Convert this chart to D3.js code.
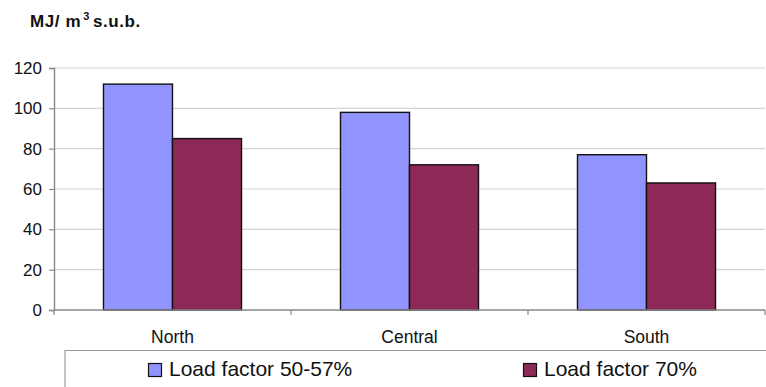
<!DOCTYPE html>
<html>
<head>
<meta charset="utf-8">
<script src="https://cdn.jsdelivr.net/npm/d3@7"></script>
<style>
  html, body { margin: 0; padding: 0; background: #fff; }
  svg { display: block; font-family: "Liberation Sans", Arial, sans-serif; }
</style>
</head>
<body>
<svg id="chart" width="766" height="387"></svg>
<script>
// Energy use per solid cubic metre, by region and load factor
const regions = ["North", "Central", "South"];
const seriesNames = ["Load factor 50-57%", "Load factor 70%"];
const loadLow = [112, 98, 77];
const loadHigh = [85, 72, 63];
const yTicks = [0, 20, 40, 60, 80, 100, 120];
const colors = ["#9194FF", "#8E2857"];

const svg = d3.select("#chart");
const margin = { left: 54, right: 1, top: 68, bottom: 77 };
const W = 766, H = 387;
const x0 = margin.left, x1 = W - margin.right;
const yTop = margin.top, yBot = H - margin.bottom;

const x = d3.scaleBand().domain(regions).range([x0, x1]).paddingInner(0).paddingOuter(0);
const xs = d3.scaleBand().domain([0, 1]).range([0, x.bandwidth()]).paddingOuter(0.717).paddingInner(0);
const y = d3.scaleLinear().domain([0, 120]).range([yBot, yTop]);

// gridlines
svg.append("g")
  .selectAll("line")
  .data(yTicks.filter(t => t > 0))
  .join("line")
  .attr("x1", x0).attr("x2", x1)
  .attr("y1", d => y(d)).attr("y2", d => y(d))
  .attr("stroke", "#d4d4d4").attr("stroke-width", 1.2);

// bars
const table = regions.map((r, i) => ({ region: r, values: [loadLow[i], loadHigh[i]] }));
svg.append("g")
  .selectAll("g")
  .data(table)
  .join("g")
  .attr("transform", d => `translate(${x(d.region)},0)`)
  .selectAll("rect")
  .data(d => d.values.map((v, k) => ({ v, k })))
  .join("rect")
  .attr("x", d => xs(d.k))
  .attr("width", xs.bandwidth())
  .attr("y", d => y(d.v))
  .attr("height", d => y(0) - y(d.v))
  .attr("fill", d => colors[d.k])
  .attr("stroke", "#111")
  .attr("stroke-width", 1.4);

// y axis
const yAxis = d3.axisLeft(y).tickValues(yTicks).tickSize(5).tickPadding(7);
const gy = svg.append("g").attr("transform", `translate(${x0},0)`).call(yAxis);
gy.select(".domain").attr("stroke", "#888").attr("stroke-width", 1.4);
gy.selectAll(".tick line").attr("stroke", "#888").attr("stroke-width", 1.2);
gy.selectAll(".tick text").attr("font-size", 17).attr("fill", "#111")
  .attr("font-family", "Liberation Sans, Arial, sans-serif");

// x axis: ticks at category boundaries
const gx = svg.append("g").attr("transform", `translate(0,${yBot})`);
gx.append("line").attr("x1", x0).attr("x2", x1).attr("y1", 0).attr("y2", 0)
  .attr("stroke", "#888").attr("stroke-width", 1.4);
const bounds = regions.map(r => x(r)).concat([x1]);
gx.selectAll("line.tk").data(bounds).join("line").attr("class", "tk")
  .attr("x1", d => d).attr("x2", d => d).attr("y1", 0).attr("y2", 5)
  .attr("stroke", "#888").attr("stroke-width", 1.2);
gx.selectAll("text").data(regions).join("text")
  .attr("x", d => x(d) + x.bandwidth() / 2)
  .attr("y", 32.5)
  .attr("text-anchor", "middle")
  .attr("font-size", 17.5)
  .attr("fill", "#111")
  .text(d => d);

// unit title
const title = svg.append("text").attr("x", 30).attr("y", 27)
  .attr("font-size", 17).attr("font-weight", "bold").attr("fill", "#111")
  .attr("letter-spacing", 0.6);
title.append("tspan").text("MJ/ m");
title.append("tspan").attr("font-size", 11).attr("dy", -7).attr("dx", 2).text("3");
title.append("tspan").attr("dy", 7).attr("dx", 3).text("s.u.b.");

// legend frame (open at right and bottom)
const lg = svg.append("g");
lg.append("path").attr("d", `M65,${H} V350.5 H${W}`)
  .attr("fill", "none").attr("stroke", "#999").attr("stroke-width", 1.2);
const legendX = [148, 523];
const items = lg.selectAll("g").data(seriesNames).join("g")
  .attr("transform", (d, i) => `translate(${legendX[i]},376)`);
items.append("rect").attr("x", 0.5).attr("y", -12.5).attr("width", 13).attr("height", 13)
  .attr("fill", (d, i) => colors[i]).attr("stroke", "#111").attr("stroke-width", 1.2);
items.append("text").attr("x", 21).attr("y", 0)
  .attr("font-size", 21).attr("fill", "#111").text(d => d);
</script>
</body>
</html>
